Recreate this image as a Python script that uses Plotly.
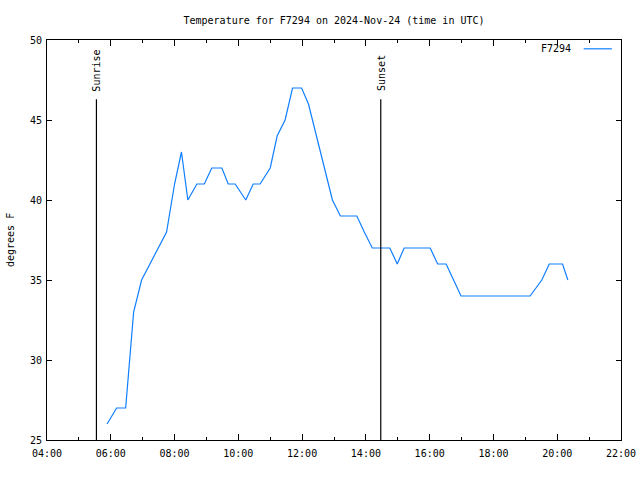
import plotly.graph_objects as go

DAY = "2024-11-24"
times = ["05:53", "06:11", "06:28", "06:43", "06:58", "07:14", "07:29", "07:45",
         "08:00", "08:13", "08:25", "08:42", "08:56", "09:10", "09:29", "09:41",
         "09:54", "10:14", "10:28", "10:41", "11:00", "11:13", "11:28", "11:42",
         "11:59", "12:12", "12:27", "12:42", "12:57", "13:12", "13:43", "13:57",
         "14:12", "14:45", "14:59", "15:12", "16:01", "16:15", "16:31", "16:45",
         "16:59", "19:09", "19:31", "19:45", "20:10", "20:20"]
temps = [26, 27, 27, 33, 35, 36, 37, 38,
         41, 43, 40, 41, 41, 42, 42, 41,
         41, 40, 41, 41, 42, 44, 45, 47,
         47, 46, 44, 42, 40, 39, 39, 38,
         37, 37, 36, 37, 37, 36, 36, 35,
         34, 34, 35, 36, 36, 35]
sun_events = ["Sunrise", "Sunset"]
sun_times = ["05:33", "14:28"]
sun_line_top = 46.3
y_min, y_max = 25, 50
x_start, x_end = "04:00", "22:00"
series_name = "F7294"
title = "Temperature for F7294 on 2024-Nov-24 (time in UTC)"

FONT = "DejaVu Sans Mono"
BLUE = "#0f7fff"

def ts(t):
    return f"{DAY} {t}"

fig = go.Figure()
fig.add_trace(go.Scatter(x=[ts(t) for t in times], y=temps, mode="lines",
                         line=dict(color=BLUE, width=1.2), name=series_name,
                         showlegend=False))
for name, t in zip(sun_events, sun_times):
    fig.add_trace(go.Scatter(x=[ts(t), ts(t)], y=[y_min, sun_line_top], mode="lines",
                             line=dict(color="black", width=1.2), showlegend=False,
                             hoverinfo="skip"))
    fig.add_annotation(x=ts(t), y=sun_line_top, xref="x", yref="y", text=name,
                       textangle=-90, showarrow=False, xanchor="center",
                       yanchor="bottom", yshift=6,
                       font=dict(family=FONT, size=10, color="black"))

# legend (gnuplot style: text then sample line)
fig.add_annotation(xref="paper", yref="paper", x=0.917, y=0.978, text=series_name,
                   showarrow=False, xanchor="right", yanchor="middle",
                   font=dict(family=FONT, size=10, color="black"))
fig.add_shape(type="line", xref="paper", yref="paper", x0=0.935, x1=0.984,
              y0=0.978, y1=0.978, line=dict(color=BLUE, width=1.2))

# y-axis title
fig.add_annotation(xref="paper", yref="paper", x=0, xshift=-37, y=0.5,
                   text="degrees F", textangle=-90, showarrow=False,
                   xanchor="center", yanchor="middle",
                   font=dict(family=FONT, size=10, color="black"))

fig.update_layout(
    width=640, height=480,
    margin=dict(l=47, r=19, t=40, b=40),
    paper_bgcolor="white", plot_bgcolor="white",
    font=dict(family=FONT, size=10, color="black"),
    title=dict(text=title, x=0.5, xref="paper", y=1 - 20 / 480, yanchor="middle",
               font=dict(family=FONT, size=10, color="black")),
    showlegend=False,
)
fig.update_xaxes(
    type="date", range=[ts(x_start), ts(x_end)],
    tickformat="%H:%M", dtick=2 * 3600 * 1000, tick0=ts(x_start),
    ticks="inside", ticklen=6, tickcolor="black", tickwidth=1,
    minor=dict(dtick=3600 * 1000, ticks="inside", ticklen=3, tickcolor="black", tickwidth=1, showgrid=False),
    showline=True, linecolor="black", linewidth=1, mirror="ticks",
    showgrid=False, zeroline=False, automargin=False, ticklabeloverflow="allow",
    ticklabelstandoff=4,
)
fig.update_yaxes(
    range=[y_min, y_max], dtick=5, tick0=0,
    ticks="inside", ticklen=5, tickcolor="black", tickwidth=1,
    showline=True, linecolor="black", linewidth=1, mirror="ticks",
    showgrid=False, zeroline=False, automargin=False, ticklabelstandoff=2,
)
fig.write_html("out.html")
